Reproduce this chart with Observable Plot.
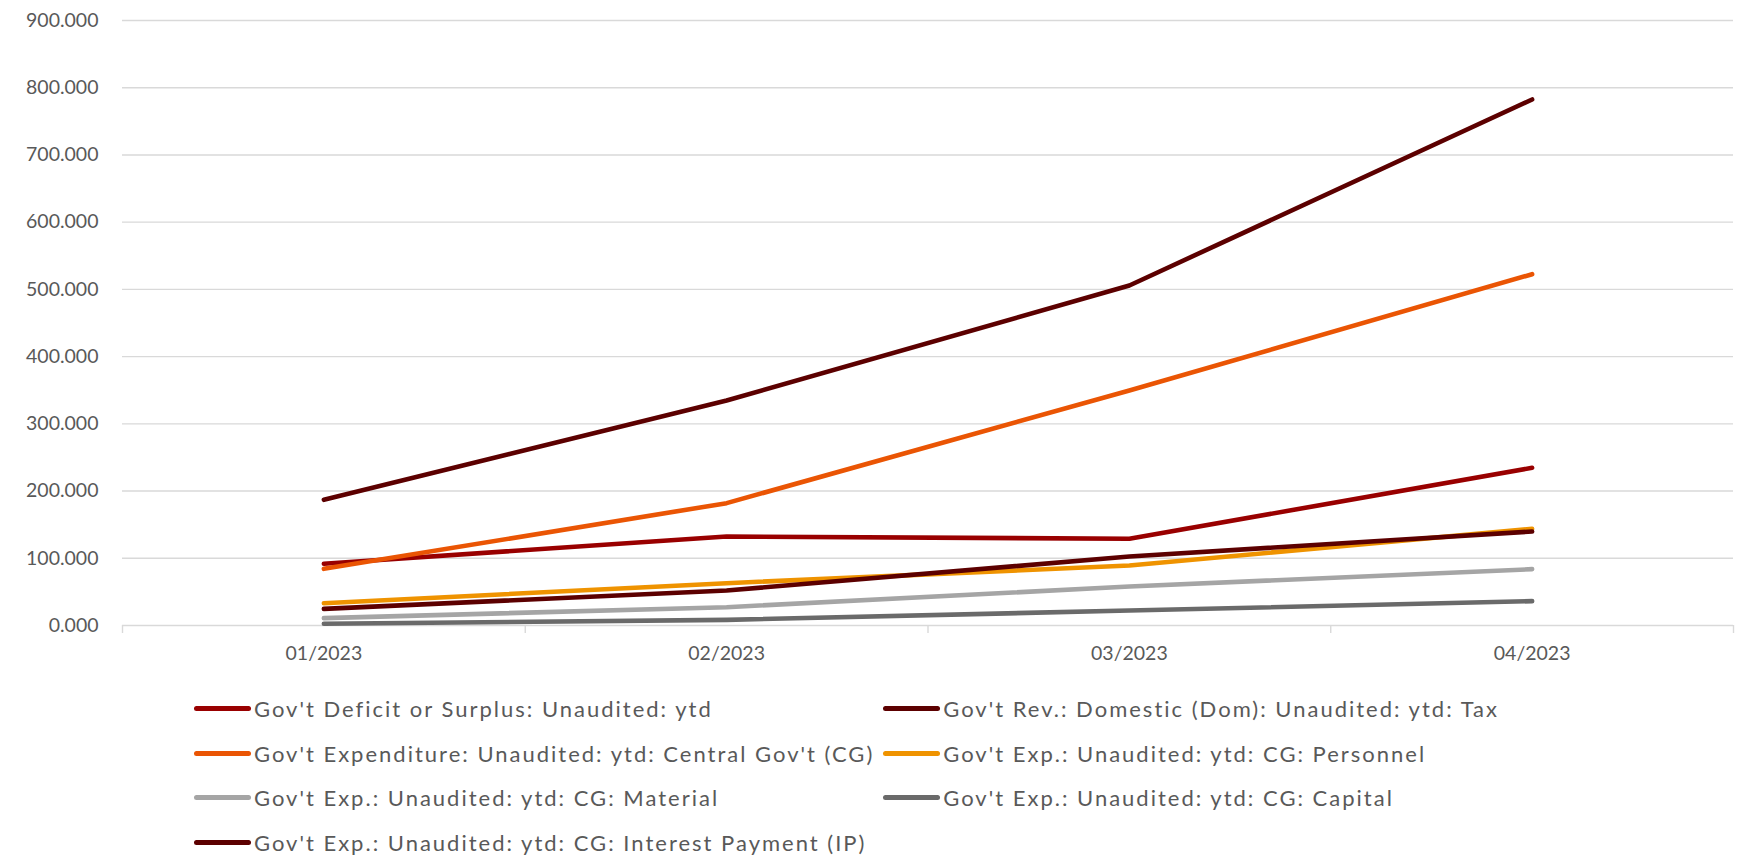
<!DOCTYPE html>
<html>
<head>
<meta charset="utf-8">
<script src="https://cdn.jsdelivr.net/npm/d3@7"></script>
<script src="https://cdn.jsdelivr.net/npm/@observablehq/plot@0.6"></script>
<style>
  body { margin: 0; background: #fff; font-family: Lato, "Open Sans", sans-serif; }
  #legend {
    display: grid;
    grid-template-columns: max-content max-content;
    column-gap: 9px;
    margin-left: 194px;
    padding-top: 6px;
    color: #595959;
    font-size: 22px;
    letter-spacing: 2px;
  }
  #legend .item { display: flex; align-items: center; height: 44.7px; white-space: nowrap; }
  #legend .sw { width: 57px; height: 5px; border-radius: 3px; margin-right: 3px; flex: none; }
</style>
</head>
<body>
<div id="chart"></div>
<div id="legend"></div>
<script>
// Months on the category axis
const months = ["01/2023", "02/2023", "03/2023", "04/2023"];

// Series names, in drawing / legend order
const seriesNames = [
  "Gov't Deficit or Surplus: Unaudited: ytd",
  "Gov't Rev.: Domestic (Dom): Unaudited: ytd: Tax",
  "Gov't Expenditure: Unaudited: ytd: Central Gov't (CG)",
  "Gov't Exp.: Unaudited: ytd: CG: Personnel",
  "Gov't Exp.: Unaudited: ytd: CG: Material",
  "Gov't Exp.: Unaudited: ytd: CG: Capital",
  "Gov't Exp.: Unaudited: ytd: CG: Interest Payment (IP)"
];
const seriesColors = ["#990000", "#5c0000", "#ea5504", "#ef9300", "#a5a5a5", "#6a6a6a", "#5c0000"];

// Year-to-date values per month
const deficitSurplus = [91.8, 132.4, 129.0, 234.6];
const revenueTax     = [187.0, 334.7, 505.8, 782.5];
const expenditureCG  = [84.3, 182.0, 349.6, 522.6];
const expPersonnel   = [33.2, 62.9, 89.3, 143.8];
const expMaterial    = [10.9, 27.2, 58.0, 83.8];
const expCapital     = [2.5, 8.4, 22.3, 36.2];
const expInterest    = [24.8, 52.1, 102.6, 139.8];

// Value axis ticks
const yTicks = [0, 100, 200, 300, 400, 500, 600, 700, 800, 900];

const seriesValues = [deficitSurplus, revenueTax, expenditureCG, expPersonnel, expMaterial, expCapital, expInterest];
const rows = seriesValues.flatMap((vals, s) =>
  vals.map((v, i) => ({series: seriesNames[s], i, month: months[i], value: v}))
);
// Category boundaries for the small axis ticks between months
const boundaries = d3.range(months.length + 1).map(k => k - 0.5);

const font = "Lato, 'Open Sans', sans-serif";
const chart = Plot.plot({
  width: 1739,
  height: 680,
  marginLeft: 122,
  marginRight: 6,
  marginTop: 20,
  marginBottom: 55,
  style: {fontFamily: font, fontSize: "19.5px", color: "#595959", background: "#fff", overflow: "visible"},
  x: {
    type: "linear",
    domain: [-0.5, months.length - 0.5],
    ticks: d3.range(months.length),
    tickFormat: i => months[i],
    tickSize: 0,
    tickPadding: 21,
    label: null
  },
  y: {
    domain: [0, 900],
    ticks: yTicks,
    tickFormat: d3.format(".3f"),
    tickSize: 0,
    tickPadding: 24,
    label: null
  },
  color: {type: "ordinal", domain: seriesNames, range: seriesColors},
  marks: [
    Plot.ruleY(yTicks, {stroke: "#d9d9d9", strokeWidth: 1.4}),
    Plot.ruleX(boundaries, {y1: 0, y2: 0, insetBottom: -8, stroke: "#d9d9d9", strokeWidth: 1.4}),
    Plot.line(rows, {
      x: "i", y: "value", z: "series", stroke: "series",
      strokeWidth: 4.6, strokeLinecap: "round", strokeLinejoin: "round"
    })
  ]
});
document.getElementById("chart").appendChild(chart);

// Legend: two columns, row-major
const legend = document.getElementById("legend");
seriesNames.forEach((name, s) => {
  const item = document.createElement("div");
  item.className = "item";
  const sw = document.createElement("span");
  sw.className = "sw";
  sw.style.background = seriesColors[s];
  const label = document.createElement("span");
  label.textContent = name;
  item.appendChild(sw);
  item.appendChild(label);
  legend.appendChild(item);
});
</script>
</body>
</html>
